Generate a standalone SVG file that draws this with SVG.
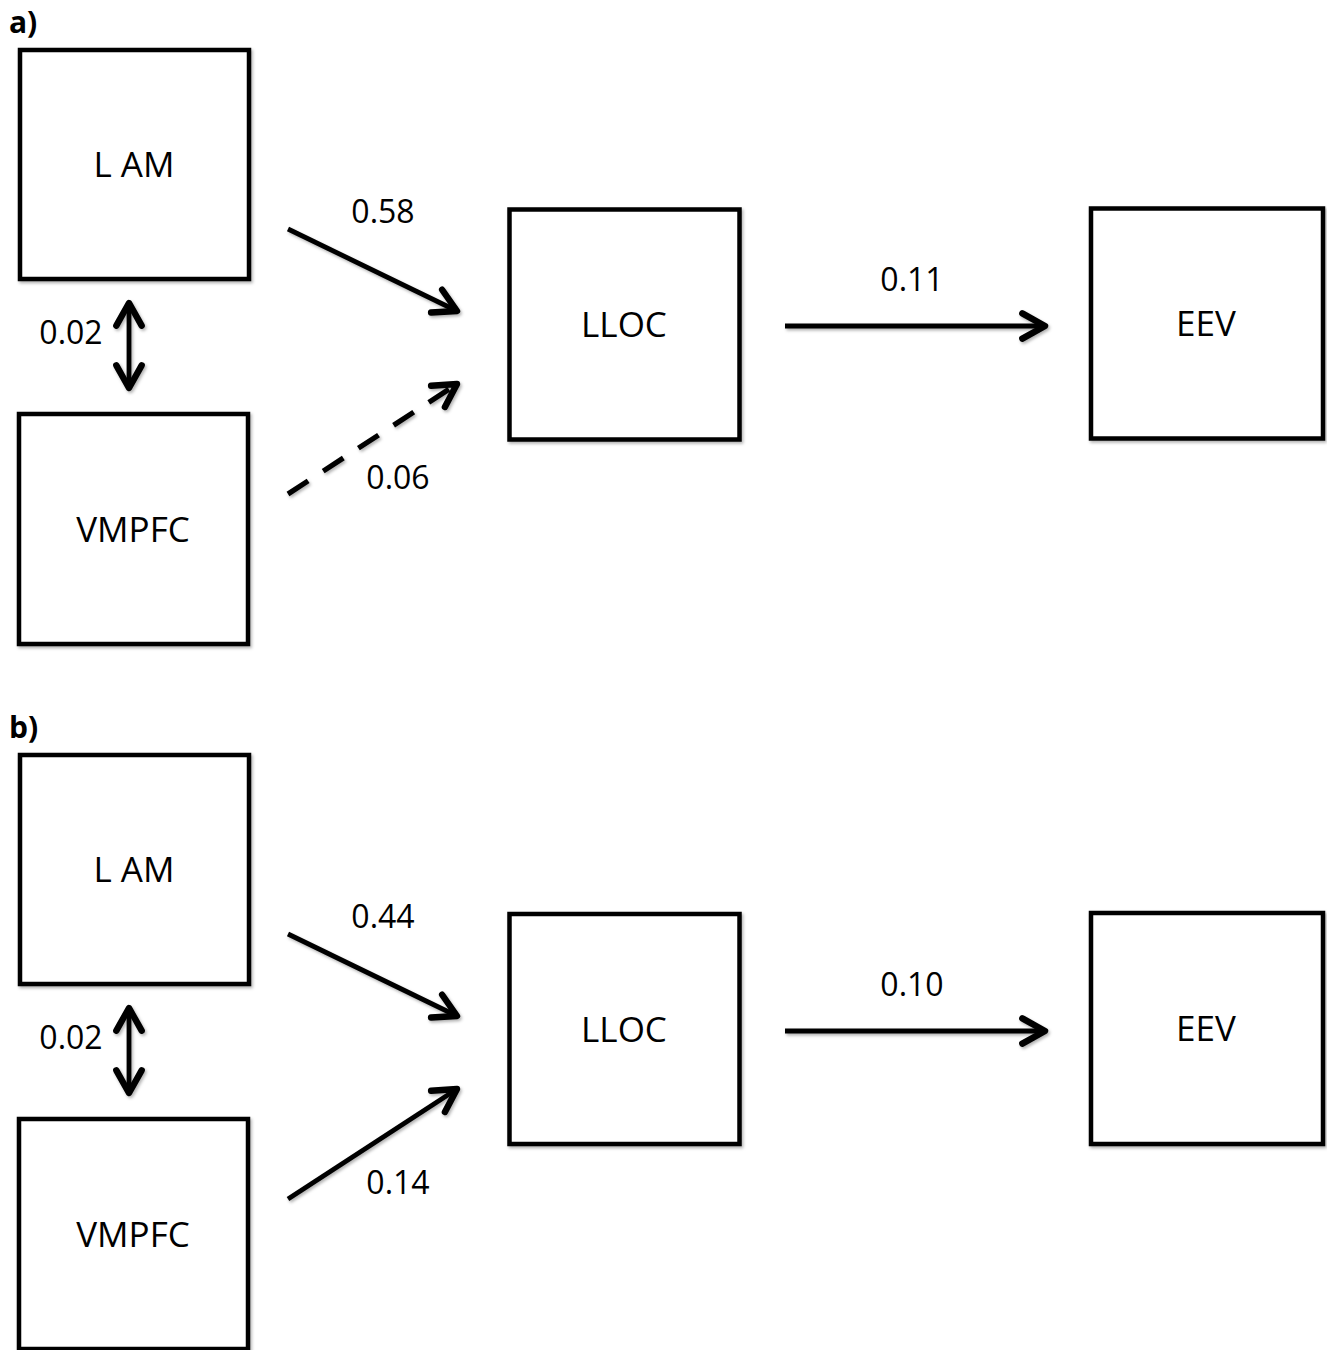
<svg xmlns="http://www.w3.org/2000/svg" width="1327" height="1350" viewBox="0 0 1327 1350">
<style>
.box{fill:#fff;stroke:#000;stroke-width:4.5;filter:url(#sh)}
.node{font-family:"Open Sans","Noto Sans",sans-serif;font-size:35px;fill:#000;text-anchor:middle}
.lbl{font-family:"Open Sans","Noto Sans",sans-serif;font-size:32px;fill:#000;text-anchor:middle}
.panel{font-family:"Open Sans","Noto Sans",sans-serif;font-size:30px;font-weight:bold;fill:#000}
.edge{fill:none;stroke:#000;stroke-width:4.8;marker-end:url(#ah)}
.dash{stroke-dasharray:24 18;stroke-width:5.2}
.both{marker-start:url(#ahs)}
</style>
<defs>
<filter id="sh" x="-10%" y="-10%" width="130%" height="130%">
<feDropShadow dx="1.5" dy="2" stdDeviation="1.5" flood-color="#000" flood-opacity="0.3"/>
</filter>
<marker id="ah" markerUnits="userSpaceOnUse" markerWidth="40" markerHeight="40" viewBox="-25 -15 30 30" refX="0" refY="0" orient="auto" overflow="visible">
<path d="M-17,-9.5 L0,0 L-17,9.5" fill="none" stroke="#000" stroke-width="4.8" stroke-linecap="round" stroke-linejoin="round"/>
</marker>
<marker id="ahs" markerUnits="userSpaceOnUse" markerWidth="40" markerHeight="40" viewBox="-25 -15 30 30" refX="0" refY="0" orient="auto-start-reverse" overflow="visible">
<path d="M-17,-9.5 L0,0 L-17,9.5" fill="none" stroke="#000" stroke-width="4.8" stroke-linecap="round" stroke-linejoin="round"/>
</marker>
</defs>
<rect width="1327" height="1350" fill="#fff"/>
<text class="panel" x="9" y="33">a)</text>
<text class="panel" x="9" y="738">b)</text>

<g id="a-lam"><rect class="box" x="20" y="50" width="229" height="229"/><text class="node" x="134" y="177">L AM</text></g>
<g id="a-vmpfc"><rect class="box" x="19" y="414" width="229" height="230"/><text class="node" x="133" y="542">VMPFC</text></g>
<g id="a-lloc"><rect class="box" x="509.5" y="209.5" width="230" height="230"/><text class="node" x="624" y="337">LLOC</text></g>
<g id="a-eev"><rect class="box" x="1091" y="208.5" width="232" height="230"/><text class="node" x="1206" y="336">EEV</text></g>

<g id="b-lam"><rect class="box" x="20" y="755" width="229" height="229"/><text class="node" x="134" y="882">L AM</text></g>
<g id="b-vmpfc"><rect class="box" x="19" y="1119" width="229" height="230"/><text class="node" x="133" y="1247">VMPFC</text></g>
<g id="b-lloc"><rect class="box" x="509.5" y="914" width="230" height="230"/><text class="node" x="624" y="1042">LLOC</text></g>
<g id="b-eev"><rect class="box" x="1091" y="913" width="232" height="231"/><text class="node" x="1206" y="1041">EEV</text></g>

<g id="connectors" filter="url(#sh)">
<line class="edge" x1="288" y1="229" x2="457" y2="311"/>
<line class="edge dash" x1="288" y1="494" x2="457" y2="384"/>
<line class="edge" x1="785" y1="326" x2="1045" y2="326"/>
<line class="edge both" x1="129" y1="303" x2="129" y2="388"/>
<line class="edge" x1="288" y1="934" x2="457" y2="1016"/>
<line class="edge" x1="288" y1="1199" x2="457" y2="1089"/>
<line class="edge" x1="785" y1="1031" x2="1045" y2="1031"/>
<line class="edge both" x1="129" y1="1008" x2="129" y2="1093"/>
</g>

<g id="labels">
<text class="lbl" x="383" y="223">0.58</text>
<text class="lbl" x="398" y="489">0.06</text>
<text class="lbl" x="912" y="291">0.11</text>
<text class="lbl" x="71" y="344">0.02</text>
<text class="lbl" x="383" y="928">0.44</text>
<text class="lbl" x="398" y="1194">0.14</text>
<text class="lbl" x="912" y="996">0.10</text>
<text class="lbl" x="71" y="1049">0.02</text>
</g>
</svg>
